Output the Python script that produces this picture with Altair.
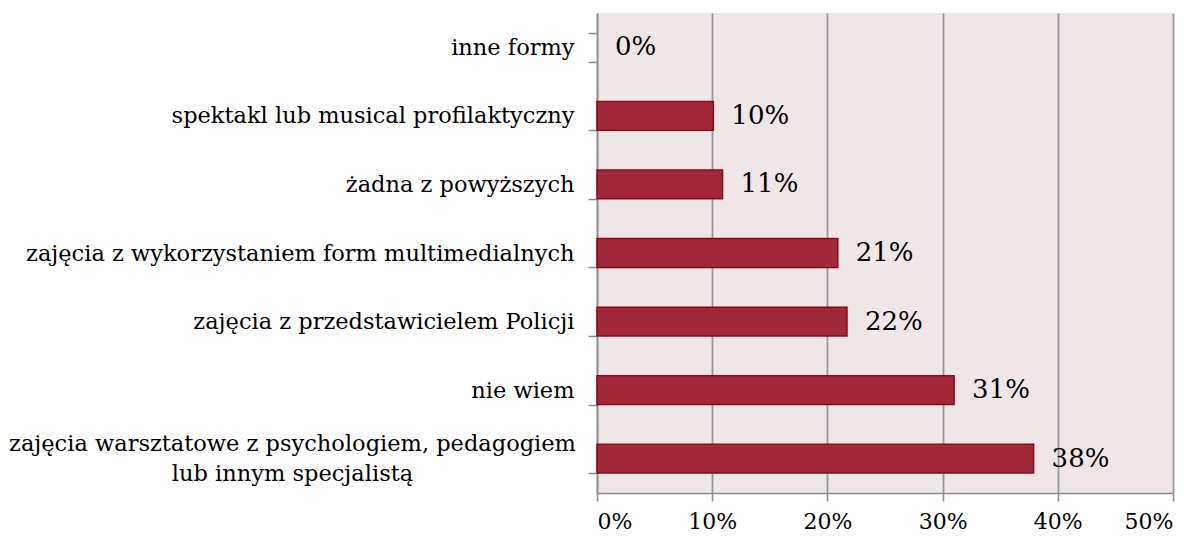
import altair as alt
import pandas as pd

categories = [
    "inne formy",
    "spektakl lub musical profilaktyczny",
    "żadna z powyższych",
    "zajęcia z wykorzystaniem form multimedialnych",
    "zajęcia z przedstawicielem Policji",
    "nie wiem",
    "zajęcia warsztatowe z psychologiem, pedagogiem|lub innym specjalistą",
]
values = [0.0, 10.1, 10.9, 20.9, 21.7, 31.0, 37.9]
labels = ["0%", "10%", "11%", "21%", "22%", "31%", "38%"]
x_ticks = [0, 10, 20, 30, 40, 50]

df = pd.DataFrame({"cat": categories, "val": values, "lab": labels})

FONT = "DejaVu Serif"
MULTI = "indexof(datum.label, '|') >= 0"

y_enc = alt.Y(
    "cat:N",
    sort=categories,
    title=None,
    scale=alt.Scale(paddingInner=0.58, paddingOuter=0.29),
    axis=alt.Axis(
        labelExpr="split(datum.label, '|')",
        labelFont=FONT,
        labelFontSize=22.5,
        labelColor="#000000",
        labelLimit=600,
        labelPadding={"condition": {"test": MULTI, "value": 296}, "value": 14},
        labelAlign={"condition": {"test": MULTI, "value": "center"}, "value": "right"},
        labelLineHeight=30,
        labelOffset={"condition": {"test": MULTI, "value": -15}, "value": 0},
        tickBand="extent",
        tickSize=9,
        tickColor="#8c8c8c",
        tickWidth=1.5,
        domainColor="#8c8c8c",
        domainWidth=1.5,
        grid=False,
    ),
)

x_enc = alt.X(
    "val:Q",
    title=None,
    scale=alt.Scale(domain=[0, 50], nice=False),
    axis=alt.Axis(
        values=x_ticks,
        labelExpr="datum.value + '%'",
        labelFont=FONT,
        labelFontSize=22,
        labelColor="#000000",
        labelPadding=10,
        tickSize=8,
        tickColor="#8c8c8c",
        tickWidth=1.5,
        domainColor="#8c8c8c",
        domainWidth=1.5,
        grid=True,
        gridColor="#999999",
        gridWidth=1.8,
    ),
)

bars = (
    alt.Chart(df)
    .transform_filter("datum.val > 0")
    .mark_bar(color="#A0283A", stroke="#8B0A1E", strokeWidth=1.5)
    .encode(x=x_enc, y=y_enc)
)

text = alt.Chart(df).mark_text(
    align="left", baseline="middle", dx=18, font=FONT, fontSize=26, color="#000000"
).encode(x="val:Q", y=alt.Y("cat:N", sort=categories), text="lab:N")

chart = (
    (bars + text)
    .properties(
        width=576,
        height=480,
        autosize=alt.AutoSizeParams(type="none"),
        padding={"left": 589, "top": 5, "right": 20, "bottom": 40},
        background="#ffffff",
    )
    .configure_view(fill="#EFE6E8", stroke=None)
)

chart.save("out.html", embed_options={"renderer": "svg", "actions": False})
